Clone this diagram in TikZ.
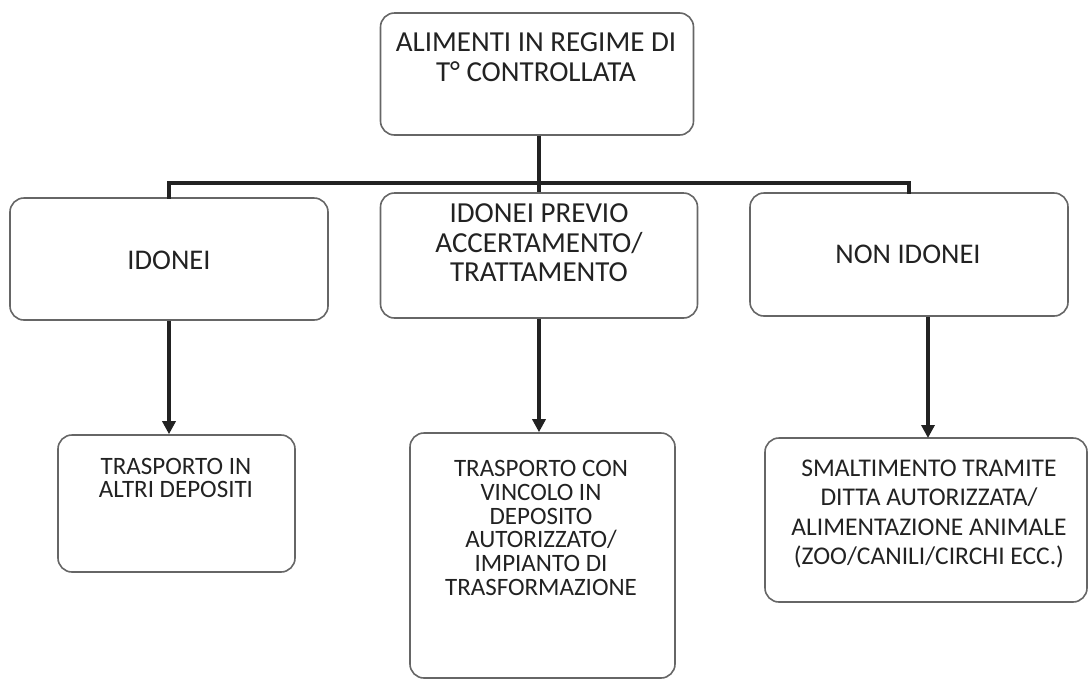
\documentclass[tikz,border=0pt]{standalone}
\usepackage{fontspec}
\setmainfont{Carlito}
\usetikzlibrary{arrows.meta}
\definecolor{txt}{HTML}{222222}
\definecolor{edge}{HTML}{666666}
\definecolor{conn}{HTML}{222222}
\begin{document}
\begin{tikzpicture}[x=1pt,y=-1pt,
  box/.style={draw=edge, line width=1.6pt, rounded corners=14pt, fill=white, inner sep=0pt},
  lbl/.style={text=txt, align=center, inner sep=0pt},
  connline/.style={draw=conn, line width=3.8pt},
  connarrow/.style={draw=conn, line width=3.8pt, -{Triangle[length=13pt,width=13pt]}}
]
\useasboundingbox (0,0) rectangle (1088,681);
% boxes
\node[box, minimum width=313pt, minimum height=122pt] (top) at (537,74) {};
\node[box, minimum width=318pt, minimum height=122pt] (idonei) at (169,259) {};
\node[box, minimum width=317pt, minimum height=125pt] (previo) at (539,255.5) {};
\node[box, minimum width=318pt, minimum height=123pt] (nonid) at (909,254.5) {};
\node[box, minimum width=237pt, minimum height=137pt] (b1) at (176.5,503.5) {};
\node[box, minimum width=265pt, minimum height=245pt] (b2) at (542.5,555.5) {};
\node[box, minimum width=322pt, minimum height=164pt] (b3) at (926,520) {};
% labels
\node[lbl, font=\fontsize{29}{30}\selectfont] (ttop) at (536,57) {ALIMENTI IN REGIME DI\\T° CONTROLLATA};
\node[lbl, font=\fontsize{28.5}{30}\selectfont] (tidonei) at (169,260) {IDONEI};
\node[lbl, font=\fontsize{29}{29.5}\selectfont] (tprevio) at (539,243) {IDONEI PREVIO\\ACCERTAMENTO/\\TRATTAMENTO};
\node[lbl, font=\fontsize{28.5}{30}\selectfont] (tnonid) at (908,254) {NON IDONEI};
\node[lbl, font=\fontsize{25}{23.5}\selectfont] (tb1) at (176,478) {TRASPORTO IN\\ALTRI DEPOSITI};
\node[lbl, font=\fontsize{25}{23.8}\selectfont] (tb2) at (541,528) {TRASPORTO CON\\VINCOLO IN\\DEPOSITO\\AUTORIZZATO/\\IMPIANTO DI\\TRASFORMAZIONE};
\node[lbl, font=\fontsize{25.5}{29.5}\selectfont] (tb3) at (929,514) {SMALTIMENTO TRAMITE\\DITTA AUTORIZZATA/\\ALIMENTAZIONE ANIMALE\\(ZOO/CANILI/CIRCHI ECC.)};
% connectors
\coordinate (busL) at (169,183);
\coordinate (busR) at (909,183);
\coordinate (busM) at (539,183);
\draw[connline] (top.south -| busM) -- (busM);
\draw[connline, line cap=rect] (busL |- idonei.north) -- (busL) -- (busR) -- (busR |- nonid.north);
\draw[connline] (busM) -- (previo.north);
\draw[connarrow] (idonei.south) -- (idonei.south |- b1.north);
\draw[connarrow] (previo.south) -- (previo.south |- b2.north);
\draw[connarrow] (nonid.south -| 928,0) -- (928,438);
\end{tikzpicture}
\end{document}
